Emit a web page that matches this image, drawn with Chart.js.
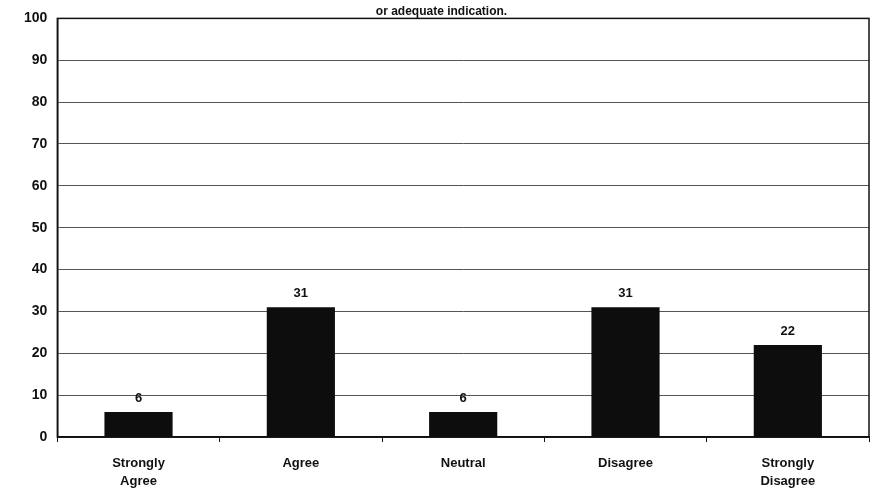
<!DOCTYPE html>
<html>
<head>
<meta charset="utf-8">
<script src="https://cdn.jsdelivr.net/npm/chart.js@4/dist/chart.umd.min.js"></script>
<style>
  html, body { margin: 0; padding: 0; background: #fff; }
  #wrap { width: 878px; height: 499px; }
</style>
</head>
<body>
<div id="wrap"><canvas id="chart" width="878" height="499"></canvas></div>
<script>
// data
const categories = [['Strongly', 'Agree'], 'Agree', 'Neutral', 'Disagree', ['Strongly', 'Disagree']];
const percentages = [6, 31, 6, 31, 22];
const yTicks = [0, 10, 20, 30, 40, 50, 60, 70, 80, 90, 100];
const titleText = 'or adequate indication.';

const FONT = '"Liberation Sans", Arial, sans-serif';

// numbers above the bars + box round the plot
const barLabels = {
    id: 'barLabels',
    afterDatasetsDraw(chart) {
        const ctx = chart.ctx;
        const meta = chart.getDatasetMeta(0);
        ctx.save();
        ctx.fillStyle = '#111';
        ctx.font = 'bold 13px ' + FONT;
        ctx.textAlign = 'center';
        ctx.textBaseline = 'bottom';
        meta.data.forEach(function(bar, i) {
            ctx.fillText(String(percentages[i]), bar.x, bar.y - 7);
        });
        const a = chart.chartArea;
        ctx.strokeStyle = '#111';
        ctx.lineWidth = 1.5;
        ctx.strokeRect(a.left, a.top, a.right - a.left, a.bottom - a.top);
        ctx.restore();
    }
};

new Chart(document.getElementById('chart'), {
    type: 'bar',
    data: {
        labels: categories,
        datasets: [{
            data: percentages,
            backgroundColor: '#0d0d0d',
            borderWidth: 0,
            barPercentage: 0.42,
            categoryPercentage: 1.0
        }]
    },
    options: {
        responsive: false,
        animation: false,
        layout: { padding: { left: 14, right: 9, top: 0, bottom: 0 } },
        plugins: {
            legend: { display: false },
            tooltip: { enabled: false },
            title: {
                display: true,
                text: titleText,
                color: '#111',
                font: { family: FONT, size: 12, weight: 'bold' },
                padding: { top: 0, bottom: 0 }
            }
        },
        scales: {
            x: {
                afterFit(axis) {
                    axis.height = 62;
                },
                grid: {
                    offset: true,
                    drawOnChartArea: false,
                    drawTicks: true,
                    tickLength: 5,
                    color: '#111'
                },
                border: { color: '#111', width: 1.5 },
                ticks: {
                    color: '#111',
                    font: { family: FONT, size: 13, weight: 'bold', lineHeight: 1.4 },
                    padding: 12,
                    maxRotation: 0
                }
            },
            y: {
                min: 0,
                max: 100,
                afterBuildTicks(axis) {
                    axis.ticks = yTicks.map(v => ({ value: v }));
                },
                grid: {
                    color: '#555',
                    lineWidth: 1,
                    drawTicks: false
                },
                border: { color: '#111', width: 1.5 },
                ticks: {
                    color: '#111',
                    font: { family: FONT, size: 14, weight: 'bold' },
                    padding: 10
                }
            }
        }
    },
    plugins: [barLabels]
});
</script>
</body>
</html>
